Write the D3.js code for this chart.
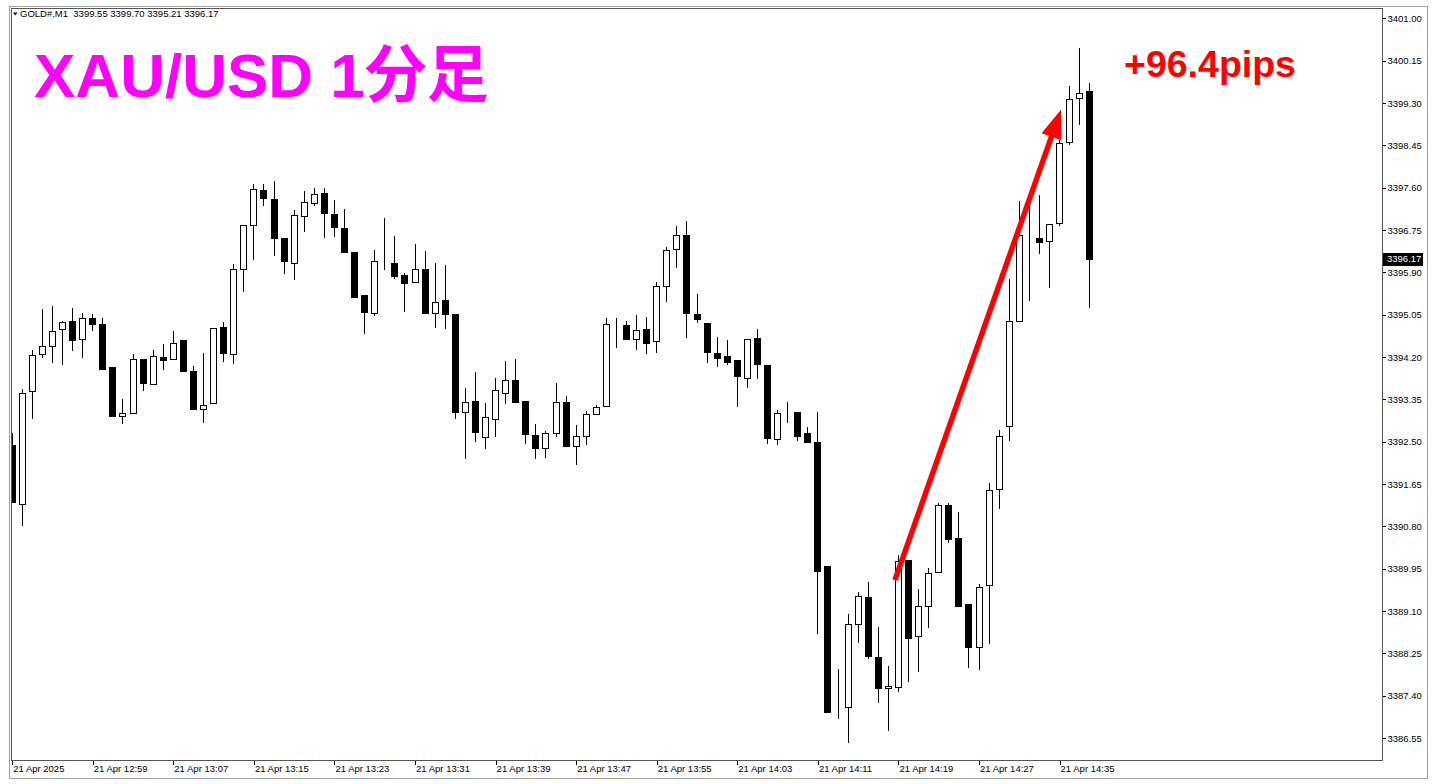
<!DOCTYPE html>
<html>
<head>
<meta charset="utf-8">
<script src="https://cdn.jsdelivr.net/npm/d3@7"></script>
<style>
  html, body { margin: 0; padding: 0; background: #fff; }
  svg { display: block; }
  .axis text { font-family: "Liberation Sans", Arial, sans-serif; font-size: 9.5px; fill: #000; }
  .axis line { stroke: #000; }
</style>
</head>
<body>
<div id="chart"></div>
<script>
// GOLD#, M1 bars 12:51 .. 14:38 (21 Apr 2025)
var symbol = "GOLD#,M1";
var opens = [
  3392.43, 3391.25, 3393.51, 3394.25, 3394.43, 3394.77, 3394.92, 3394.57, 3394.99, 3394.86,
  3393.99, 3393.01, 3393.07, 3394.16, 3393.65, 3394.20, 3394.15, 3394.54, 3393.92, 3393.16,
  3393.27, 3394.80, 3394.25, 3395.96, 3396.84, 3397.56, 3397.38, 3396.58, 3396.08, 3397.04,
  3397.30, 3397.50, 3397.08, 3396.79, 3396.31, 3395.44, 3395.09, 3396.10, 3396.08, 3395.84,
  3395.70, 3395.96, 3395.09, 3395.34, 3395.06, 3393.09, 3393.31, 3392.59, 3392.95, 3393.47,
  3393.74, 3393.31, 3392.63, 3392.38, 3392.68, 3393.29, 3392.41, 3392.61, 3393.05, 3393.21,
  3394.86, 3394.84, 3394.57, 3394.76, 3394.52, 3395.63, 3396.36, 3396.65, 3395.06, 3394.89,
  3394.28, 3394.22, 3394.13, 3393.77, 3394.58, 3394.04, 3392.55, 3393.10, 3393.10, 3392.67,
  3392.50, 3390.00, 3387.16, 3387.18, 3388.83, 3389.38, 3388.18, 3387.55, 3387.57, 3390.12,
  3388.59, 3389.21, 3389.88, 3391.23, 3390.57, 3389.24, 3388.38, 3389.62, 3391.54, 3392.82,
  3394.92, 3396.67, 3396.58, 3396.53, 3396.89, 3398.51, 3399.39, 3399.55
];
var highs = [
  3392.68, 3393.55, 3394.34, 3395.16, 3395.23, 3394.93, 3395.19, 3395.09, 3395.07, 3394.99,
  3393.99, 3393.35, 3394.26, 3394.16, 3394.34, 3394.47, 3394.72, 3394.54, 3394.02, 3394.27,
  3394.79, 3394.91, 3396.06, 3396.86, 3397.68, 3397.68, 3397.73, 3396.58, 3397.16, 3397.53,
  3397.59, 3397.59, 3397.35, 3397.17, 3396.31, 3395.44, 3396.34, 3396.99, 3396.63, 3395.88,
  3396.46, 3396.32, 3396.09, 3396.04, 3395.06, 3393.57, 3393.89, 3393.27, 3393.77, 3394.12,
  3394.16, 3393.31, 3392.85, 3392.71, 3393.68, 3393.41, 3392.83, 3393.11, 3393.23, 3394.99,
  3394.99, 3394.92, 3395.05, 3395.01, 3395.71, 3396.40, 3396.83, 3396.93, 3395.46, 3394.89,
  3394.60, 3394.54, 3394.13, 3394.57, 3394.77, 3394.04, 3393.13, 3393.29, 3393.10, 3392.79,
  3393.09, 3390.00, 3387.94, 3389.03, 3389.49, 3389.68, 3388.77, 3388.00, 3390.22, 3390.12,
  3389.54, 3389.96, 3391.26, 3391.26, 3391.09, 3389.24, 3389.64, 3391.67, 3392.73, 3395.76,
  3397.33, 3397.28, 3397.45, 3396.88, 3398.55, 3399.64, 3400.41, 3399.70
];
var lows = [
  3391.29, 3390.83, 3392.97, 3394.20, 3394.09, 3394.05, 3394.34, 3394.20, 3394.75, 3393.96,
  3393.02, 3392.87, 3393.07, 3393.53, 3393.65, 3393.96, 3394.15, 3393.92, 3393.15, 3392.89,
  3393.27, 3394.12, 3394.07, 3395.53, 3396.16, 3397.26, 3396.24, 3395.88, 3395.76, 3396.73,
  3397.26, 3396.61, 3396.63, 3396.30, 3395.40, 3394.69, 3395.05, 3395.96, 3395.79, 3395.13,
  3395.70, 3395.09, 3394.81, 3394.79, 3392.97, 3392.18, 3392.52, 3392.37, 3392.61, 3393.27,
  3393.29, 3392.47, 3392.18, 3392.20, 3392.61, 3392.41, 3392.06, 3392.45, 3393.05, 3393.21,
  3394.40, 3394.57, 3394.37, 3394.27, 3394.30, 3395.33, 3396.01, 3394.60, 3394.91, 3394.10,
  3394.02, 3394.06, 3393.22, 3393.60, 3393.77, 3392.47, 3392.45, 3392.90, 3392.53, 3392.49,
  3388.65, 3387.07, 3386.96, 3386.47, 3388.48, 3388.16, 3387.27, 3386.71, 3387.50, 3387.70,
  3387.90, 3388.78, 3389.88, 3390.48, 3389.21, 3387.98, 3387.93, 3388.46, 3391.16, 3392.53,
  3394.92, 3395.34, 3396.28, 3395.61, 3396.85, 3398.47, 3398.87, 3395.21
];
var closes = [
  3391.29, 3393.47, 3394.23, 3394.43, 3394.73, 3394.91, 3394.54, 3394.99, 3394.87, 3393.96,
  3393.02, 3393.07, 3394.16, 3393.67, 3394.21, 3394.13, 3394.49, 3393.92, 3393.15, 3393.23,
  3394.79, 3394.28, 3395.96, 3396.86, 3397.57, 3397.40, 3396.58, 3396.12, 3397.06, 3397.32,
  3397.48, 3397.10, 3396.81, 3396.30, 3395.40, 3395.11, 3396.12, 3396.10, 3395.82, 3395.68,
  3395.96, 3395.09, 3395.30, 3395.07, 3393.09, 3393.30, 3392.69, 3393.00, 3393.53, 3393.74,
  3393.29, 3392.65, 3392.37, 3392.67, 3393.29, 3392.41, 3392.61, 3393.06, 3393.19, 3394.86,
  3394.86, 3394.57, 3394.75, 3394.49, 3395.62, 3396.34, 3396.65, 3395.09, 3394.97, 3394.29,
  3394.17, 3394.10, 3393.82, 3394.57, 3394.05, 3392.58, 3393.07, 3393.10, 3392.62, 3392.49,
  3389.90, 3387.07, 3387.16, 3388.83, 3389.40, 3388.20, 3387.56, 3387.60, 3390.10, 3388.56,
  3389.20, 3389.86, 3391.23, 3390.54, 3389.21, 3388.38, 3389.58, 3391.53, 3392.61, 3394.93,
  3396.65, 3396.67, 3396.51, 3396.88, 3398.49, 3399.37, 3399.51, 3396.17
];

// price scale labels on the right
var priceTicks = [3401.00, 3400.15, 3399.30, 3398.45, 3397.60, 3396.75, 3395.90, 3395.05,
  3394.20, 3393.35, 3392.50, 3391.65, 3390.80, 3389.95, 3389.10, 3388.25, 3387.40, 3386.55];
// time labels, one every 8 bars
var timeTickBars = [0, 8, 16, 24, 32, 40, 48, 56, 64, 72, 80, 88, 96, 104];
var timeTickLabels = ["21 Apr 2025", "21 Apr 12:59", "21 Apr 13:07", "21 Apr 13:15",
  "21 Apr 13:23", "21 Apr 13:31", "21 Apr 13:39", "21 Apr 13:47", "21 Apr 13:55",
  "21 Apr 14:03", "21 Apr 14:11", "21 Apr 14:19", "21 Apr 14:27", "21 Apr 14:35"];

// annotations
var titleText = "XAU/USD 1分足";
var pipsText = "+96.4pips";
var arrowFrom = {bar: 87.7, price: 3389.72};
var arrowTo = {bar: 104.2, price: 3399.17};

var width = 1442, height = 784;
var plot = {left: 11, top: 8, right: 1382, bottom: 760};

var svg = d3.select("#chart").append("svg")
  .attr("width", width)
  .attr("height", height);

var x = d3.scaleLinear().domain([0, 107]).range([11.7, 1089.3]);
var y = d3.scaleLinear().domain([3386.108, 3401.207]).range([plot.bottom, plot.top]);

// outer frame
svg.append("rect")
  .attr("x", 9.5).attr("y", 6.5)
  .attr("width", 1418).attr("height", 772)
  .attr("fill", "none").attr("stroke", "#a0a0a0");

svg.append("clipPath").attr("id", "plotclip")
  .append("rect")
  .attr("x", plot.left + 1).attr("y", plot.top + 1)
  .attr("width", plot.right - plot.left - 1).attr("height", plot.bottom - plot.top - 1);

var bars = d3.range(opens.length).map(function(i) {
  return {i: i, o: opens[i], h: highs[i], l: lows[i], c: closes[i]};
});

var g = svg.append("g")
  .attr("clip-path", "url(#plotclip)")
  .attr("shape-rendering", "crispEdges");

var candle = g.selectAll("g.bar")
  .data(bars)
  .enter().append("g")
    .attr("class", "bar");

candle.append("line")
  .attr("x1", function(d) { return Math.round(x(d.i)) + 0.5; })
  .attr("x2", function(d) { return Math.round(x(d.i)) + 0.5; })
  .attr("y1", function(d) { return Math.round(y(d.h)); })
  .attr("y2", function(d) { return Math.round(y(d.l)) + 1; })
  .attr("stroke", "#000");

candle.append("rect")
  .attr("x", function(d) { return Math.round(x(d.i)) - 3 + 0.5; })
  .attr("width", 6)
  .attr("y", function(d) { return Math.round(y(Math.max(d.o, d.c))) + 0.5; })
  .attr("height", function(d) {
    return Math.max(0, Math.round(y(Math.min(d.o, d.c))) - Math.round(y(Math.max(d.o, d.c))));
  })
  .attr("fill", function(d) { return d.c < d.o ? "#000" : "#fff"; })
  .attr("stroke", "#000");

// chart border on top of the bars
svg.append("rect")
  .attr("x", plot.left + 0.5).attr("y", plot.top + 0.5)
  .attr("width", plot.right - plot.left).attr("height", plot.bottom - plot.top)
  .attr("fill", "none").attr("stroke", "#555")
  .attr("shape-rendering", "crispEdges");

// right price axis
var yAxis = svg.append("g")
  .attr("class", "axis")
  .attr("transform", "translate(" + (plot.right + 0.5) + ",0)")
  .attr("shape-rendering", "crispEdges")
  .call(d3.axisRight(y).tickValues(priceTicks).tickSize(3).tickPadding(2).tickFormat(d3.format(".2f")));
yAxis.select(".domain").remove();

// bottom time axis, labels start at the tick
var xAxis = svg.append("g")
  .attr("class", "axis")
  .attr("transform", "translate(0," + (plot.bottom + 0.5) + ")")
  .attr("shape-rendering", "crispEdges")
  .call(d3.axisBottom(x).tickValues(timeTickBars).tickSize(4)
    .tickFormat(function(d, i) { return timeTickLabels[i]; }));
xAxis.select(".domain").remove();
xAxis.selectAll(".tick line")
  .attr("transform", "translate(0.5,0)");
xAxis.selectAll(".tick text")
  .attr("text-anchor", "start")
  .attr("x", 1)
  .attr("y", 5);

// last price marker
var last = closes[closes.length - 1];
svg.append("rect")
  .attr("x", plot.right + 1).attr("y", Math.round(y(last)) - 6)
  .attr("width", 40).attr("height", 13)
  .attr("fill", "#000");
svg.append("text")
  .attr("x", plot.right + 5).attr("y", y(last) + 3.5)
  .attr("font-family", "Liberation Sans, Arial, sans-serif")
  .attr("font-size", "9.5px")
  .attr("fill", "#fff")
  .text(d3.format(".2f")(last));

// header line
svg.append("path")
  .attr("d", "M13,12.5 L17.5,12.5 L15.25,15.5 Z")
  .attr("fill", "#000");
var fmt = d3.format(".2f");
var n = opens.length - 1;
svg.append("text")
  .attr("x", 20).attr("y", 17.3)
  .attr("font-family", "Liberation Sans, Arial, sans-serif")
  .attr("font-size", "9.5px")
  .attr("fill", "#000")
  .attr("xml:space", "preserve")
  .text(symbol + "  " + fmt(opens[n]) + " " + fmt(highs[n]) + " " + fmt(lows[n]) + " " + fmt(closes[n]));

// title
svg.append("text")
  .attr("x", 34).attr("y", 97)
  .attr("font-family", "Liberation Sans, Noto Sans CJK JP, sans-serif")
  .attr("font-weight", "bold")
  .attr("font-size", "62px")
  .attr("fill", "#ff00ff")
  .text(titleText);

svg.append("text")
  .attr("x", 1124).attr("y", 77)
  .attr("font-family", "Liberation Sans, Arial, sans-serif")
  .attr("font-weight", "bold")
  .attr("font-size", "37.5px")
  .attr("fill", "#ff0000")
  .text(pipsText);

// red arrow
var ax1 = x(arrowFrom.bar), ay1 = y(arrowFrom.price);
var ax2 = x(arrowTo.bar), ay2 = y(arrowTo.price);
var len = Math.sqrt((ax2 - ax1) * (ax2 - ax1) + (ay2 - ay1) * (ay2 - ay1));
var ux = (ax2 - ax1) / len, uy = (ay2 - ay1) / len;
var headLen = 29, headHalf = 10.5;
var bx = ax2 - ux * headLen, by = ay2 - uy * headLen;

svg.append("line")
  .attr("x1", ax1).attr("y1", ay1)
  .attr("x2", bx + ux * 2).attr("y2", by + uy * 2)
  .attr("stroke", "#ff0000")
  .attr("stroke-width", 5.5);

svg.append("path")
  .attr("d", d3.line()([
    [ax2, ay2],
    [bx - uy * headHalf, by + ux * headHalf],
    [bx + uy * headHalf, by - ux * headHalf]
  ]) + "Z")
  .attr("fill", "#ff0000");
</script>
</body>
</html>
